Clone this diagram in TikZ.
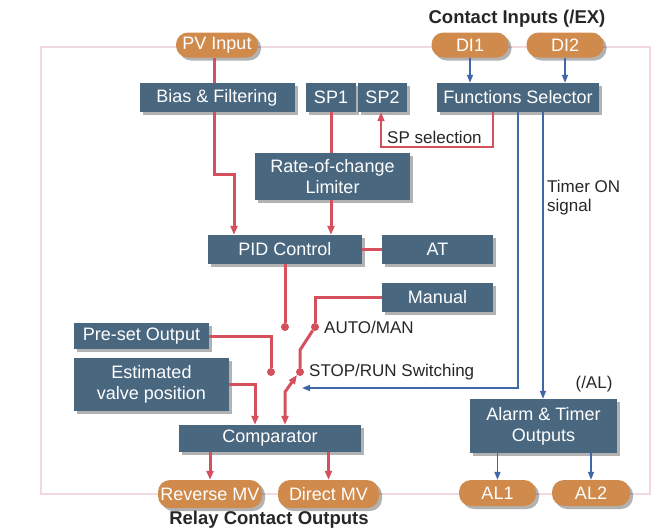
\documentclass[tikz,border=0pt]{standalone}
\usepackage{fontspec}
\setmainfont{Liberation Sans}
\usetikzlibrary{arrows.meta,shadows}
\definecolor{boxblue}{HTML}{4A6780}
\definecolor{pillor}{HTML}{CF8A4C}
\definecolor{redl}{HTML}{D4505C}
\definecolor{bluel}{HTML}{4068A8}
\definecolor{framec}{HTML}{F2D9DE}
\begin{document}
\begin{tikzpicture}[x=1pt,y=-1pt,
  shad/.style={drop shadow={shadow xshift=3pt,shadow yshift=-3pt,opacity=0.3,fill=black}},
  box/.style={fill=boxblue,text=white,inner sep=0pt,shad,font=\fontsize{18}{21}\selectfont,align=center},
  pill/.style={fill=pillor,text=white,inner sep=0pt,shad,font=\fontsize{18}{21}\selectfont,rounded corners=12pt},
  lbl/.style={font=\fontsize{17}{19}\selectfont,inner sep=0pt,text=black!85},
  ttl/.style={font=\fontsize{18.5}{21}\selectfont\bfseries,inner sep=0pt,text=black!85},
  redw/.style={draw=redl,line width=3pt},
  redthin/.style={draw=redl,line width=1.8pt},
  bluew/.style={draw=bluel,line width=1.4pt},
  rtip/.style={-{Triangle[length=9pt,width=7pt]}},
  btip/.style={-{Triangle[length=8pt,width=6pt]}},
  dot/.style={circle,fill=redl,inner sep=0pt,minimum size=8pt}
]
\useasboundingbox (0,0) rectangle (668,530);
% frame
\draw[framec,line width=2pt] (41,47) rectangle (650,494);

% nodes
\node[pill,minimum width=82pt,minimum height=25pt] (pv) at (217,45) {PV Input};
\node[pill,minimum width=77pt,minimum height=25pt] (di1) at (470,45) {DI1};
\node[pill,minimum width=77pt,minimum height=25pt] (di2) at (565,45) {DI2};
\node[ttl] (cin) at (517,19) {Contact Inputs (/EX)};

\node[box,minimum width=155pt,minimum height=29pt] (bias) at (217,97.5) {Bias \& Filtering};
\node[box,minimum width=50pt,minimum height=29pt] (sp1) at (331,97.5) {SP1};
\node[box,minimum width=49pt,minimum height=29pt] (sp2) at (382.5,97.5) {SP2};
\node[box,minimum width=162pt,minimum height=29pt] (fs) at (518,97.5) {Functions Selector};
\node[box,minimum width=155pt,minimum height=47pt] (rate) at (332.5,176.5) {Rate-of-change\\Limiter};
\node[box,minimum width=154pt,minimum height=29pt] (pid) at (285,249.5) {PID Control};
\node[box,minimum width=111pt,minimum height=29pt] (at) at (437.5,249.5) {AT};
\node[box,minimum width=111pt,minimum height=29pt] (man) at (437.5,297.5) {Manual};
\node[box,minimum width=135pt,minimum height=26pt] (pre) at (141.5,336) {Pre-set Output};
\node[box,minimum width=155pt,minimum height=53pt] (est) at (151.5,384.5) {Estimated\\valve position};
\node[box,minimum width=182pt,minimum height=27pt] (cmp) at (270,438.5) {Comparator};
\node[box,minimum width=147pt,minimum height=54pt] (alm) at (543.5,426) {Alarm \& Timer\\Outputs};

\node[pill,minimum width=104pt,minimum height=28pt] (rmv) at (210,494) {Reverse MV};
\node[pill,minimum width=101pt,minimum height=28pt] (dmv) at (328.5,494) {Direct MV};
\node[pill,minimum width=77pt,minimum height=26pt] (al1) at (497.5,493) {AL1};
\node[pill,minimum width=78pt,minimum height=26pt] (al2) at (591,493) {AL2};
\node[ttl] (rco) at (269,520) {Relay Contact Outputs};

% labels
\node[lbl,anchor=west] (spsel) at (387,137) {SP selection};
\node[lbl,anchor=west,align=left] (tmr) at (547,198) {Timer ON\\signal};
\node[lbl,anchor=west] (am) at (324,327) {AUTO/MAN};
\node[lbl,anchor=west] (sr) at (309,372) {STOP/RUN Switching};
\node[lbl] (alt) at (594,384) {(/AL)};

% dots
\node[dot] (d1) at (285,327) {};
\node[dot] (d2) at (315,327) {};
\node[dot] (d3) at (271,372) {};
\node[dot] (d4) at (300,372) {};
\coordinate (swb) at (300,350);

% red connectors
\draw[redw] (pv.south -| 214,0) -- (bias.north -| 214,0);
\draw[redw,rtip] (bias.south -| 214,0) -- (214,174) -- (234,174) -- (pid.north -| 234,0);
\draw[redw] (sp1.south) -- (rate.north -| sp1.south);
\draw[redw,rtip] (rate.south -| sp1.south) -- (pid.north -| sp1.south);
\draw[redw] (pid.east) -- (at.west);
\draw[redw] (pid.south) -- (d1);
\draw[redw] (man.west) -- (315,297.5) -- (d2);
\draw[redw] (d2) -- (swb) -- (d4);
\draw[redw] (pre.east) -- (271,336) -- (d3);
\draw[redw,rtip] (est.east) -- (255,384.5) -- (cmp.north -| 255,0);
\draw[redw,{Triangle[length=9pt,width=7pt]}-{Triangle[length=9pt,width=7pt]}] (cmp.north -| 285,0) -- (285,392) -- (297,375);
\draw[redw,rtip] (cmp.south -| rmv.north) -- (rmv.north);
\draw[redw,rtip] (cmp.south -| dmv.north) -- (dmv.north);
\draw[redthin,rtip] (fs.south -| 493,0) -- (493,147) -- (381,147) -- (sp2.south -| 381,0);

% blue connectors
\draw[bluew,btip] (di1.south) -- (fs.north -| di1.south);
\draw[bluew,btip] (di2.south) -- (fs.north -| di2.south);
\draw[bluew,btip] (fs.south -| 518,0) -- (518,388) -- (302,388);
\draw[bluew,btip] (fs.south -| 543,0) -- (alm.north -| 543,0);
\draw[bluew,btip] (alm.south -| al1.north) -- (al1.north);
\draw[bluew,btip] (alm.south -| al2.north) -- (al2.north);
\end{tikzpicture}
\end{document}
